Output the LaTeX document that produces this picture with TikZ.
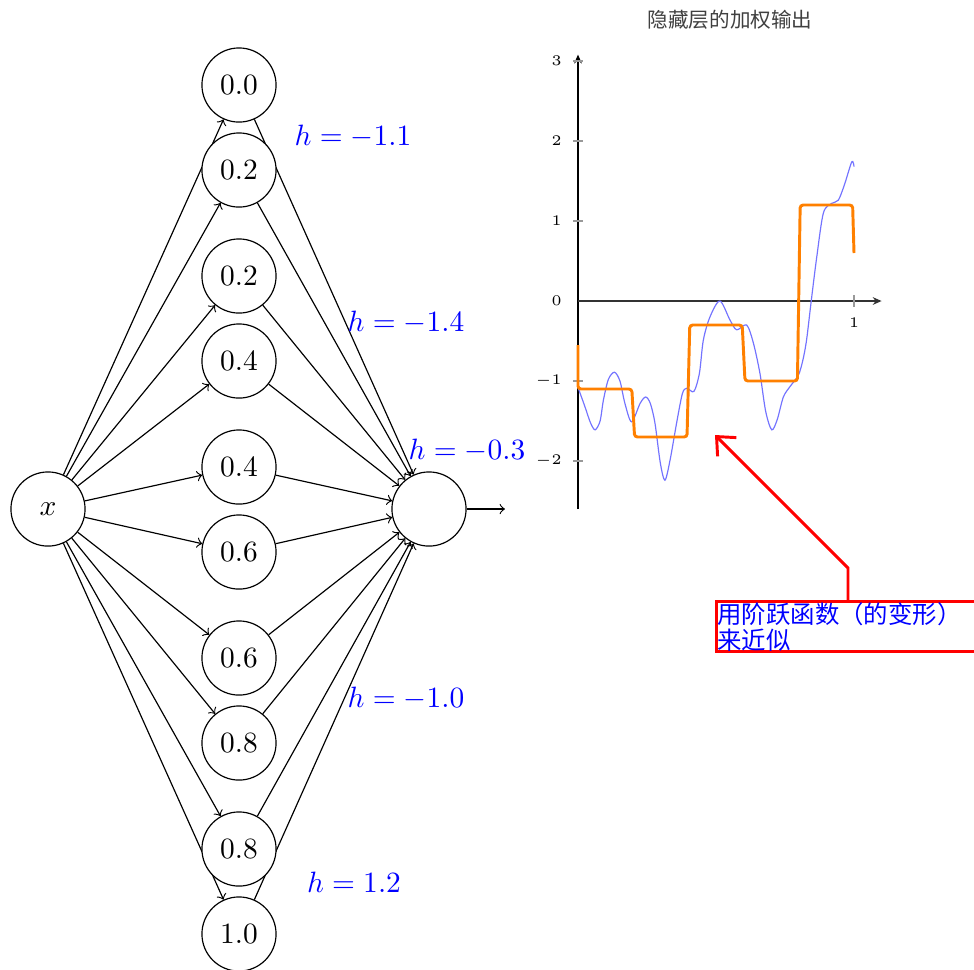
\documentclass[tikz,border=0pt]{standalone}
\usepackage{fontspec}
\newfontfamily\cjk{Noto Sans CJK SC}
\usetikzlibrary{arrows.meta,backgrounds}
\tikzset{
  neuron/.style={circle,draw,fill=white,minimum size=25.2pt,inner sep=0pt},
  hlab/.style={text=blue},
  axisarrow/.style={-{Stealth[length=3pt,width=2.6pt]}},
}
\begin{document}
\begin{tikzpicture}[x=.34pt,y=-.34pt,>=to]
  \useasboundingbox (0,0) rectangle (974,969);
  \node[neuron] (in) at (48,509) {$x$};
  \node[neuron] (out) at (429,509) {};
  \foreach \i/\y/\lab in {1/85/0.0,2/170/0.2,3/276/0.2,4/361/0.4,5/467/0.4,
      6/552/0.6,7/658/0.6,8/743/0.8,9/849/0.8,10/934/1.0}
    \node[neuron] (h\i) at (239,\y) {$\lab$};
  \begin{scope}[on background layer]
    \foreach \i in {1,...,10}
      \draw[->] (in) -- (h\i);
    \foreach \i in {1,...,10}
      \draw[->] (h\i) -- (out);
  \end{scope}
  \coordinate (yout) at (505,509);
  \draw[->] (out) -- (yout);
  \foreach \x/\y/\lab in {353/136/-1.1,406/322/-1.4,467/450/-0.3,
      406/698/-1.0,354/882/1.2}
    \node[hlab] at (\x,\y) {$h=\lab$};
  \node[text=black!75,font=\cjk\fontsize{7}{8}\selectfont] (title) at (730,20) {隐藏层的加权输出};
  \begin{scope}[shift={(578,301)},x=93.84pt,y=27.2pt,font=\tiny]
    \draw[axisarrow] (0,-2.6) -- (0,3.08);
    \draw[axisarrow,black!80,semithick] (0,0) -- (1.1,0);
    \foreach \v in {-2,-1,1,2,3}
      \draw[black!40] (-0.018,\v) -- (0.018,\v);
    \foreach \v in {-2,...,3}
      \node[anchor=east] at (-0.022,\v) {$\v$};
    \draw[black!40] (1,-0.07) -- (1,0.07);
    \node at (1,-0.275) {$1$};
    \draw[blue!55,line width=.4pt] plot[smooth] coordinates {
      (0,-1.08) (0.025,-1.32) (0.045,-1.52) (0.062,-1.61) (0.08,-1.5)
      (0.092,-1.24) (0.11,-0.98) (0.132,-0.89) (0.152,-1.0) (0.17,-1.28)
      (0.194,-1.51) (0.225,-1.28) (0.245,-1.20) (0.262,-1.28) (0.279,-1.53)
      (0.298,-2.02) (0.315,-2.24) (0.334,-1.98) (0.357,-1.53) (0.378,-1.16)
      (0.394,-1.09) (0.42,-1.13) (0.44,-0.9) (0.454,-0.49) (0.478,-0.2)
      (0.514,0) (0.551,-0.24) (0.575,-0.36) (0.611,-0.30) (0.635,-0.52)
      (0.659,-0.9) (0.68,-1.38) (0.702,-1.61) (0.722,-1.48) (0.744,-1.2)
      (0.768,-1.07) (0.798,-0.93) (0.814,-0.75) (0.828,-0.49) (0.845,0)
      (0.865,0.55) (0.889,1.10) (0.919,1.22) (0.943,1.26) (0.965,1.45)
      (0.992,1.74) (1,1.68)};
    \draw[orange,line width=1pt,rounded corners=1pt] (0,-0.55) -- (0,-1.1)
      -- (0.195,-1.1) -- (0.205,-1.7) -- (0.395,-1.7) -- (0.405,-0.3)
      -- (0.595,-0.3) -- (0.605,-1.0) -- (0.795,-1.0) -- (0.805,1.2)
      -- (0.995,1.2) -- (1,0.6);
  \end{scope}
  \node[draw=red,line width=1pt,anchor=north west,text=blue,align=left,text width=95pt,
    inner sep=.3pt,font=\cjk\fontsize{8.3}{7.5}\selectfont] (note) at (715,600)
    {用阶跃函数（的变形）\\来近似};
  \coordinate (bend) at (848,568);
  \coordinate (tip) at (715,435);
  \draw[red,line width=1pt,-{Straight Barb[length=5pt,width=9pt]}]
    (note.north -| bend) -- (bend) -- (tip);
\end{tikzpicture}
\end{document}
